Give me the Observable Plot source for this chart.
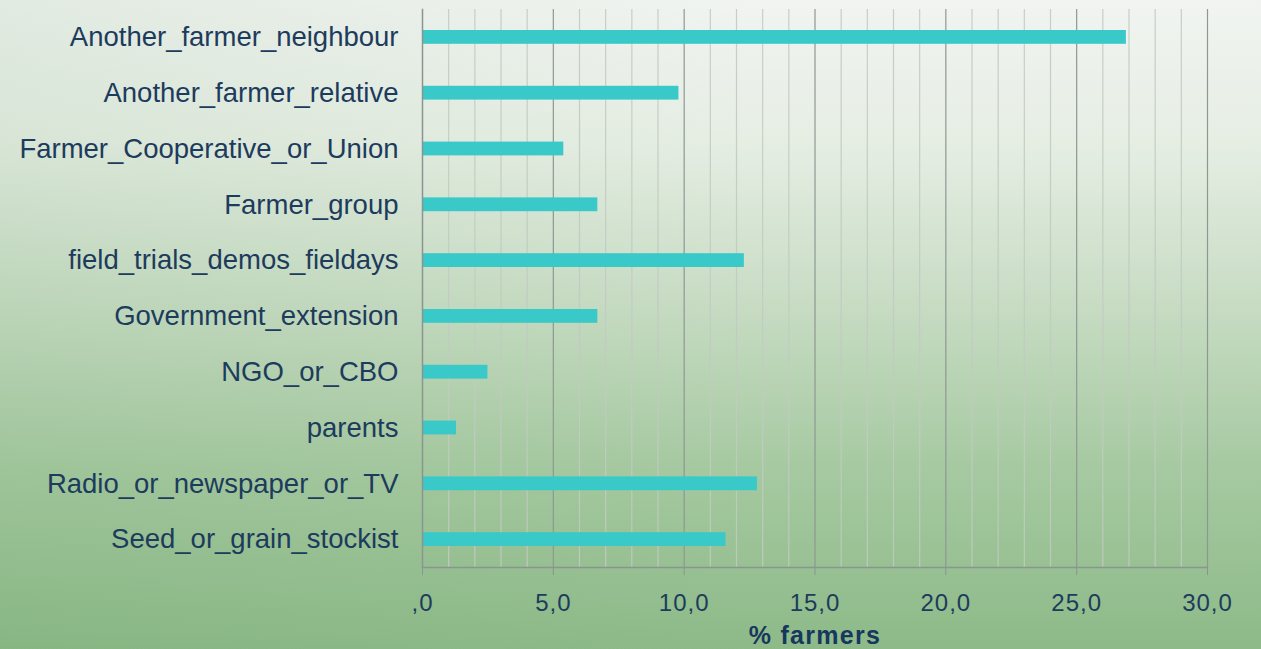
<!DOCTYPE html>
<html>
<head>
<meta charset="utf-8">
<script src="https://cdn.jsdelivr.net/npm/d3@7"></script>
<script src="https://cdn.jsdelivr.net/npm/@observablehq/plot@0.6"></script>
<style>
  html, body { margin: 0; padding: 0; }
  body {
    width: 1261px; height: 649px; overflow: hidden;
    background:
      linear-gradient(90deg, rgba(90,150,90,0.10) 0%, rgba(255,255,255,0) 60%),
      linear-gradient(180deg, #f1f4f1 0%, #e6eee4 22%, #c6dbc2 48%, #a6c9a1 72%, #8dba88 100%);
  }
  #chart svg { display: block; background: transparent; }
  g[aria-label="x-axis tick label"] text { letter-spacing: 1px; }
  g[aria-label="text"] text { letter-spacing: 1.3px; }
</style>
</head>
<body>
<div id="chart"></div>
<script>
const categories = [
  "Another_farmer_neighbour",
  "Another_farmer_relative",
  "Farmer_Cooperative_or_Union",
  "Farmer_group",
  "field_trials_demos_fieldays",
  "Government_extension",
  "NGO_or_CBO",
  "parents",
  "Radio_or_newspaper_or_TV",
  "Seed_or_grain_stockist"
];
const values = [26.9, 9.8, 5.4, 6.7, 12.3, 6.7, 2.5, 1.3, 12.8, 11.6];
const majorTicks = [0, 5, 10, 15, 20, 25, 30];
const tickLabels = [",0", "5,0", "10,0", "15,0", "20,0", "25,0", "30,0"];
const minorTicks = [1,2,3,4,6,7,8,9,11,12,13,14,16,17,18,19,21,22,23,24,26,27,28,29];
const axisTitle = "% farmers";

const data = categories.map((c, i) => ({category: c, value: values[i]}));
const textColor = "#1d3b5c";

const chart = Plot.plot({
  width: 1261,
  height: 649,
  marginLeft: 422,
  marginRight: 54,
  marginTop: 9,
  marginBottom: 82,
  style: {fontFamily: "'Liberation Sans', Arial, sans-serif", color: textColor, background: "transparent"},
  x: {domain: [0, 30]},
  y: {domain: categories, padding: 0, round: false},
  marks: [
    Plot.ruleX(minorTicks, {stroke: "#c2cac2", strokeWidth: 1.2, strokeOpacity: 0.9}),
    Plot.ruleX(majorTicks.slice(1), {stroke: "#8e9893", strokeWidth: 1.2}),
    Plot.barX(data, {y: "category", x: "value", fill: "#38c9c8", insetTop: 21, insetBottom: 21}),
    Plot.frame({anchor: "left", stroke: "#8a9590", strokeWidth: 1.5}),
    Plot.frame({anchor: "bottom", stroke: "#8a9590", strokeWidth: 1.5}),
    Plot.axisY({tickSize: 0, tickPadding: 24, fontSize: 27.5, fill: textColor, label: null}),
    Plot.axisX({ticks: majorTicks, tickFormat: (d) => tickLabels[majorTicks.indexOf(d)], tickSize: 8, tickPadding: 18, fontSize: 24, fill: textColor, stroke: "#8a9590", label: null}),
    Plot.text([axisTitle], {frameAnchor: "bottom", dy: 68, fontSize: 25, fontWeight: "bold", fill: "#17375e", lineAnchor: "middle"})
  ]
});
document.getElementById("chart").appendChild(chart);
</script>
</body>
</html>
